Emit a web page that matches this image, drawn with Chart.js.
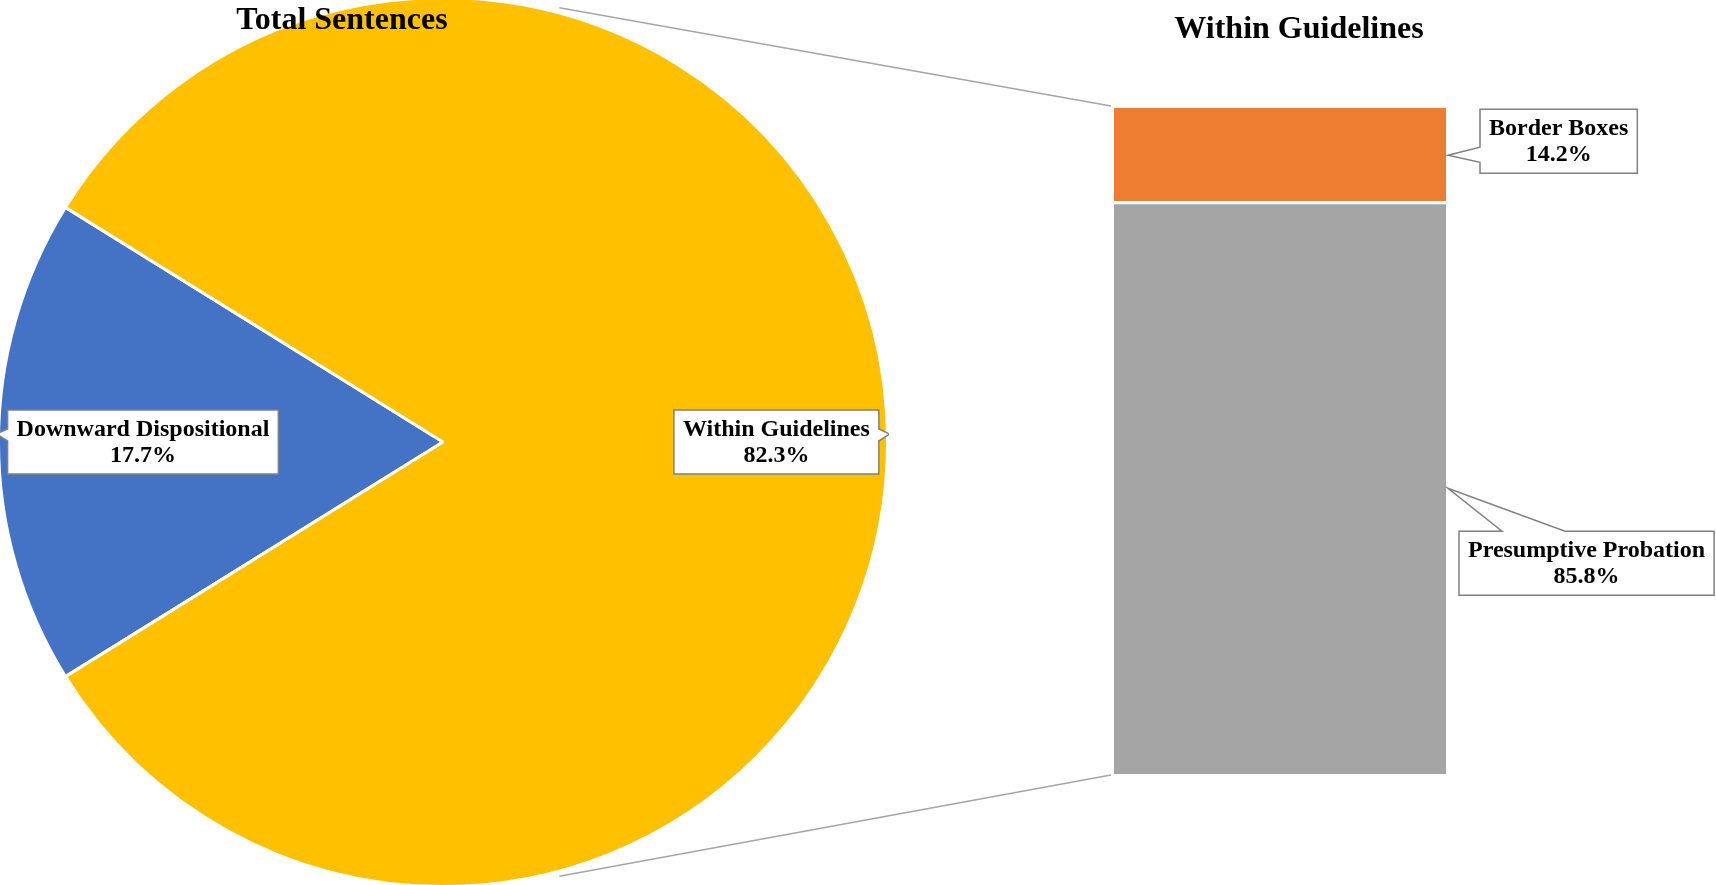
<!DOCTYPE html>
<html>
<head>
<meta charset="utf-8">
<script src="https://cdn.jsdelivr.net/npm/chart.js@4"></script>
<style>
  html, body { margin: 0; padding: 0; background: #fff; overflow: hidden; }
  #wrap { position: relative; width: 1716px; height: 885px; overflow: hidden; }
  canvas { position: absolute; left: 0; top: 0; }
  #pieChart { left: -3px; top: -4px; }
</style>
</head>
<body>
<div id="wrap">
  <canvas id="pieChart" width="892" height="892"></canvas>
  <canvas id="barChart" width="1716" height="885"></canvas>
</div>
<script>
// Chart data
const pieLabels = ["Downward Dispositional", "Within Guidelines"];
const pieValues = [17.7, 82.3];
const pieColors = ["#4472C4", "#FFC000"];

const barLabels = ["Presumptive Probation", "Border Boxes"];
const barValues = [85.8, 14.2];
const barColors = ["#A5A5A5", "#ED7D31"];

const pieTitle = "Total Sentences";
const barTitle = "Within Guidelines";

const serif = "'Liberation Serif', 'Times New Roman', serif";
const labelFont = "bold 24px " + serif;
const titleFont = "bold 32px " + serif;
const boxStroke = "#808080";

// the pie canvas is shifted a little so the circle fills the page height
const pieShift = { x: -3, y: -4 };

// Draw a white box with a little pointer tail, and two centered text lines
function drawCallout(ctx, cx, cy, lines, tip, side, b1, b2) {
    ctx.save();
    ctx.font = labelFont;
    const w = Math.max(...lines.map(t => ctx.measureText(t).width)) + 18;
    const h = 64;
    const x = cx - w / 2, y = cy - h / 2;

    ctx.beginPath();
    if (side === "left") {
        ctx.moveTo(x, y);
        ctx.lineTo(x + w, y);
        ctx.lineTo(x + w, y + h);
        ctx.lineTo(x, y + h);
        ctx.lineTo(x, cy + b2);
        ctx.lineTo(tip.x, tip.y);
        ctx.lineTo(x, cy + b1);
    } else if (side === "right") {
        ctx.moveTo(x, y);
        ctx.lineTo(x + w, y);
        ctx.lineTo(x + w, cy + b1);
        ctx.lineTo(tip.x, tip.y);
        ctx.lineTo(x + w, cy + b2);
        ctx.lineTo(x + w, y + h);
        ctx.lineTo(x, y + h);
    } else {
        ctx.moveTo(x, y);
        ctx.lineTo(x + b1, y);
        ctx.lineTo(tip.x, tip.y);
        ctx.lineTo(x + b2, y);
        ctx.lineTo(x + w, y);
        ctx.lineTo(x + w, y + h);
        ctx.lineTo(x, y + h);
    }
    ctx.closePath();
    ctx.fillStyle = "#fff";
    ctx.fill();
    ctx.lineWidth = 1.5;
    ctx.strokeStyle = boxStroke;
    ctx.stroke();

    ctx.fillStyle = "#000";
    ctx.textAlign = "center";
    ctx.textBaseline = "middle";
    ctx.fillText(lines[0], cx, cy - 12);
    ctx.fillText(lines[1], cx, cy + 14);
    ctx.restore();
}

function pct(v) {
    return v.toFixed(1) + "%";
}

// Labels on the pie slices
const pieLabelPlugin = {
    id: "pieLabels",
    afterDraw(chart) {
        const ctx = chart.ctx;
        const dist = [0.675, 0.75];
        chart.getDatasetMeta(0).data.forEach((arc, i) => {
            const p = arc.getProps(["x", "y", "startAngle", "endAngle", "outerRadius"]);
            const mid = (p.startAngle + p.endAngle) / 2;
            const cx = p.x + Math.cos(mid) * p.outerRadius * dist[i];
            const cy = p.y + Math.sin(mid) * p.outerRadius * dist[i];
            const tip = { x: p.x + Math.cos(mid) * (p.outerRadius + 2), y: cy - 8 };
            const side = Math.cos(mid) < 0 ? "left" : "right";
            drawCallout(ctx, cx, cy, [pieLabels[i], pct(pieValues[i])], tip, side, -13, -1);
        });
    }
};

const pieChart = new Chart(document.getElementById("pieChart"), {
    type: "pie",
    data: {
        labels: pieLabels,
        datasets: [{
            data: pieValues,
            backgroundColor: pieColors,
            borderColor: "#ffffff",
            borderWidth: 3
        }]
    },
    options: {
        responsive: false,
        animation: false,
        // centre the small slice on the left side
        rotation: 270 - pieValues[0] / pieValues.reduce((a, b) => a + b, 0) * 180,
        layout: { padding: 0 },
        plugins: {
            legend: { display: false },
            tooltip: { enabled: false }
        }
    },
    plugins: [pieLabelPlugin]
});

// Connector lines, titles and bar labels
const barExtrasPlugin = {
    id: "barExtras",
    afterDraw(chart) {
        const ctx = chart.ctx;
        const bottomBar = chart.getDatasetMeta(0).data[0];
        const topBar = chart.getDatasetMeta(1).data[0];
        const left = topBar.x - topBar.width / 2;
        const right = topBar.x + topBar.width / 2;

        // connector lines from the pie to the bar
        const arc = pieChart.getDatasetMeta(0).data[0];
        const px = arc.x + pieShift.x, py = arc.y + pieShift.y;
        const R = arc.outerRadius + 5;
        const a = 75 * Math.PI / 180;
        ctx.save();
        ctx.strokeStyle = "#A6A6A6";
        ctx.lineWidth = 1.5;
        ctx.beginPath();
        ctx.moveTo(px + Math.cos(-a) * R, py + Math.sin(-a) * R);
        ctx.lineTo(left - 3, topBar.y - 2);
        ctx.moveTo(px + Math.cos(a) * R, py + Math.sin(a) * R);
        ctx.lineTo(left - 3, bottomBar.base + 1);
        ctx.stroke();
        ctx.restore();

        // titles
        ctx.save();
        ctx.font = titleFont;
        ctx.fillStyle = "#000";
        ctx.textAlign = "center";
        ctx.textBaseline = "middle";
        ctx.fillText(pieTitle, px - 101, 21);
        ctx.fillText(barTitle, topBar.x + 19, 30);
        ctx.restore();

        // bar labels
        const styles = [
            { dx: 13, dy: 75, side: "top", b1: 43, b2: 106 },
            { dx: 34, dy: -14, side: "left", b1: 6, b2: 21 }
        ];
        barLabels.forEach((name, i) => {
            const bar = chart.getDatasetMeta(i).data[0];
            const segCenter = (bar.y + bar.base) / 2;
            const st = styles[i];
            ctx.save();
            ctx.font = labelFont;
            const w = Math.max(ctx.measureText(name).width, ctx.measureText(pct(barValues[i])).width) + 18;
            ctx.restore();
            const cx = right + st.dx + w / 2;
            const cy = segCenter + st.dy;
            drawCallout(ctx, cx, cy, [name, pct(barValues[i])], { x: right + 2, y: segCenter }, st.side, st.b1, st.b2);
        });
    }
};

new Chart(document.getElementById("barChart"), {
    type: "bar",
    data: {
        labels: [barTitle],
        datasets: [
            {
                label: barLabels[0],
                data: [barValues[0]],
                backgroundColor: barColors[0],
                borderColor: "#ffffff",
                borderWidth: { top: 2, bottom: 0, left: 0, right: 0 },
                borderSkipped: false,
                barPercentage: 1,
                categoryPercentage: 1
            },
            {
                label: barLabels[1],
                data: [barValues[1]],
                backgroundColor: barColors[1],
                borderColor: "#ffffff",
                borderWidth: { top: 0, bottom: 2, left: 0, right: 0 },
                borderSkipped: false,
                barPercentage: 1,
                categoryPercentage: 1
            }
        ]
    },
    options: {
        responsive: false,
        animation: false,
        layout: { padding: { left: 1114, right: 270, top: 108, bottom: 111 } },
        scales: {
            x: { display: false, stacked: true },
            y: { display: false, stacked: true, min: 0, max: 100 }
        },
        plugins: {
            legend: { display: false },
            tooltip: { enabled: false }
        }
    },
    plugins: [barExtrasPlugin]
});
</script>
</body>
</html>
